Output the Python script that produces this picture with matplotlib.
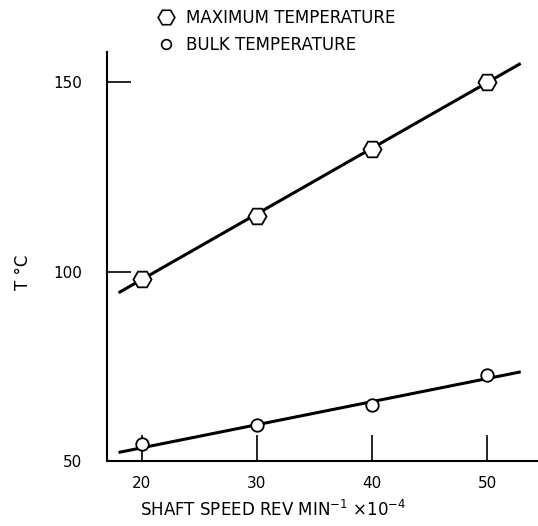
import matplotlib.pyplot as plt
from matplotlib.lines import Line2D

# data
speed = [20, 30, 40, 50]
t_max = [98.1, 114.6, 132.4, 150.0]
t_bulk = [54.5, 59.5, 64.8, 72.7]

# fitted lines (end points as drawn)
fit_x = [18.0, 52.9]
fit_max = [94.4, 155.0]
fit_bulk = [52.2, 73.5]

xticks = [20, 30, 40, 50]
yticks = [50, 100, 150]

plt.rcParams['font.family'] = ['DejaVu Sans']

fig = plt.figure(figsize=(5.38, 5.26), dpi=100)
ax = fig.add_axes([0.199, 0.124, 0.801, 0.777])

ax.plot(fit_x, fit_max, color='black', lw=2.2, solid_capstyle='butt', zorder=2)
ax.plot(fit_x, fit_bulk, color='black', lw=2.2, solid_capstyle='butt', zorder=2)
ax.plot(speed, t_max, ls='none', marker='H', ms=13, mfc='white', mec='black', mew=1.3, zorder=3)
ax.plot(speed, t_bulk, ls='none', marker='o', ms=9, mfc='white', mec='black', mew=1.3, zorder=3)

ax.set_xlim(17.0, 54.4)
ax.set_ylim(50, 158)
ax.spines['top'].set_visible(False)
ax.spines['right'].set_visible(False)
ax.spines['left'].set_linewidth(1.5)
ax.spines['bottom'].set_linewidth(1.5)

ax.set_xticks(xticks)
ax.set_yticks(yticks)
ax.tick_params(axis='x', direction='in', length=19, width=1.2, pad=11, labelsize=11)
ax.tick_params(axis='y', direction='in', length=17, width=1.2, pad=18, labelsize=11)

ax.set_xlabel('SHAFT SPEED REV MIN$^{-1}$ $\\times$10$^{-4}$', fontsize=12)
ax.xaxis.set_label_coords(0.385, -0.095)
ax.set_ylabel('T \u00b0C', fontsize=12)
ax.yaxis.set_label_coords(-0.175, 0.46)

handles = [
    Line2D([], [], ls='none', marker='H', ms=12, mfc='white', mec='black', mew=1.2),
    Line2D([], [], ls='none', marker='o', ms=7, mfc='white', mec='black', mew=1.2),
]
fig.legend(handles, ['MAXIMUM TEMPERATURE', 'BULK TEMPERATURE'],
           loc='upper left', bbox_to_anchor=(0.265, 1.012), frameon=False,
           fontsize=12, handlelength=1.0, handletextpad=0.7, labelspacing=0.55)

fig.savefig('out.png', dpi=100)
